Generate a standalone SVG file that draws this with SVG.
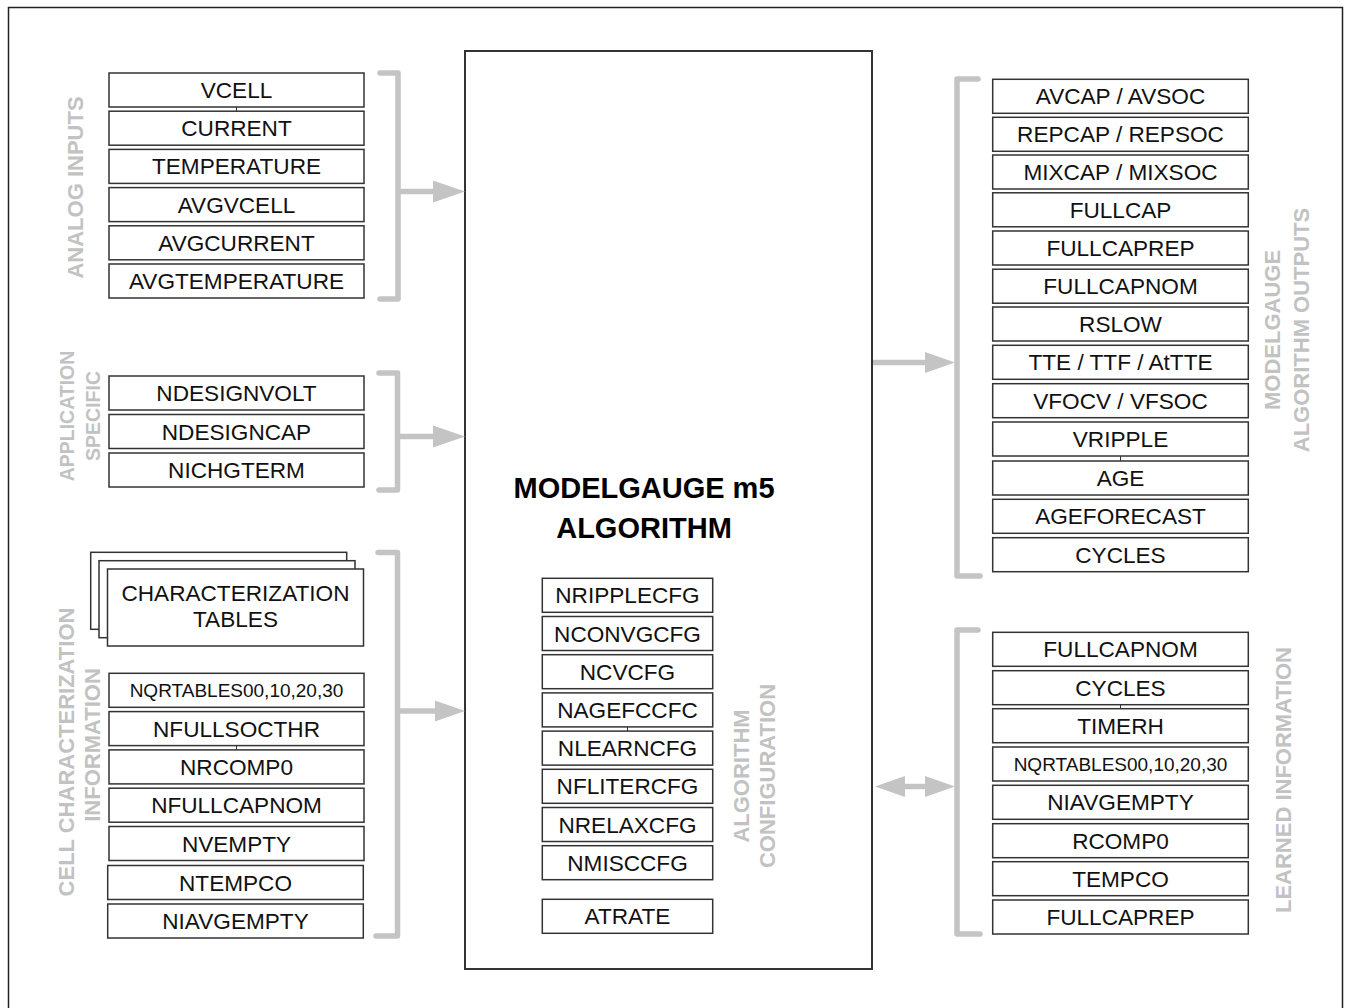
<svg xmlns="http://www.w3.org/2000/svg" width="1351" height="1008" viewBox="0 0 1351 1008">
<style>
.box{fill:#fff;stroke:#333;stroke-width:1.5}
.t{font-family:"Liberation Sans",Arial,sans-serif;font-size:22.6px;fill:#111;text-anchor:middle}
.ts{font-size:19px}
.lbl{font-family:"Liberation Sans",Arial,sans-serif;font-size:22px;font-weight:bold;fill:#c2c2c2;text-anchor:middle}
.lbs{font-size:19.5px}
.brk{fill:none;stroke:#c4c4c4;stroke-width:5.5;stroke-linecap:round;stroke-linejoin:round}
.shaft{stroke:#c4c4c4;stroke-width:5.5}
.head{fill:#c4c4c4}
.tick{stroke:#333;stroke-width:1}
</style>
<rect width="1351" height="1008" fill="#fff"/>
<path d="M8.5,1012 V7.5 H1342.5 V1012" fill="none" stroke="#222" stroke-width="1.5"/>

<g id="main">
<rect x="465" y="51" width="407" height="918" fill="#fff" stroke="#333" stroke-width="2"/>
<text x="644" y="498" font-family="Liberation Sans, Arial, sans-serif" font-size="29" font-weight="bold" text-anchor="middle" fill="#000">MODELGAUGE m5</text>
<text x="644" y="538" font-family="Liberation Sans, Arial, sans-serif" font-size="29" font-weight="bold" text-anchor="middle" fill="#000">ALGORITHM</text>
</g>

<g id="labels">
<text class="lbl" transform="translate(83,187.5) rotate(-90)">ANALOG INPUTS</text>
<text class="lbl lbs" transform="translate(74,416) rotate(-90)">APPLICATION</text>
<text class="lbl lbs" transform="translate(100,416) rotate(-90)">SPECIFIC</text>
<text class="lbl" transform="translate(74,752) rotate(-90)">CELL CHARACTERIZATION</text>
<text class="lbl" transform="translate(100,745) rotate(-90)">INFORMATION</text>
<text class="lbl" transform="translate(749,776) rotate(-90)">ALGORITHM</text>
<text class="lbl" transform="translate(775,776) rotate(-90)">CONFIGURATION</text>
<text class="lbl" transform="translate(1280,330) rotate(-90)">MODELGAUGE</text>
<text class="lbl" transform="translate(1309,330) rotate(-90)">ALGORITHM OUTPUTS</text>
<text class="lbl" transform="translate(1291,780) rotate(-90)">LEARNED INFORMATION</text>
</g>

<g id="analog-inputs">
<g id="n-vcell"><rect class="box" x="109" y="73" width="255" height="34"/><text class="t" x="236.5" y="98">VCELL</text></g>
<g id="n-current"><rect class="box" x="109" y="111.2" width="255" height="34"/><text class="t" x="236.5" y="136.2">CURRENT</text></g>
<g id="n-temperature"><rect class="box" x="109" y="149.4" width="255" height="34"/><text class="t" x="236.5" y="174.4">TEMPERATURE</text></g>
<g id="n-avgvcell"><rect class="box" x="109" y="187.6" width="255" height="34"/><text class="t" x="236.5" y="212.6">AVGVCELL</text></g>
<g id="n-avgcurrent"><rect class="box" x="109" y="225.8" width="255" height="34"/><text class="t" x="236.5" y="250.8">AVGCURRENT</text></g>
<g id="n-avgtemperature"><rect class="box" x="109" y="264" width="255" height="34"/><text class="t" x="236.5" y="289">AVGTEMPERATURE</text></g>
</g>

<g id="application-specific">
<g id="n-ndesignvolt"><rect class="box" x="109" y="376" width="255" height="34"/><text class="t" x="236.5" y="401">NDESIGNVOLT</text></g>
<g id="n-ndesigncap"><rect class="box" x="109" y="414.5" width="255" height="34"/><text class="t" x="236.5" y="439.5">NDESIGNCAP</text></g>
<g id="n-nichgterm"><rect class="box" x="109" y="453" width="255" height="34"/><text class="t" x="236.5" y="478">NICHGTERM</text></g>
</g>

<g id="cell-characterization">
<g id="n-char-tables">
<rect class="box" x="90.7" y="552.3" width="256" height="77"/>
<rect class="box" x="99" y="560.7" width="256" height="77"/>
<rect class="box" x="107.5" y="569" width="256" height="77"/>
<text class="t" x="235.5" y="601">CHARACTERIZATION</text>
<text class="t" x="235.5" y="627">TABLES</text>
</g>
<g id="n-nqrtables-l"><rect class="box" x="109" y="673.3" width="255" height="34"/><text class="t ts" x="236.5" y="697">NQRTABLES00,10,20,30</text></g>
<g id="n-nfullsocthr"><rect class="box" x="109" y="711.6" width="255" height="34"/><text class="t" x="236.5" y="736.6">NFULLSOCTHR</text></g>
<g id="n-nrcomp0"><rect class="box" x="109" y="749.9" width="255" height="34"/><text class="t" x="236.5" y="774.9">NRCOMP0</text></g>
<g id="n-nfullcapnom"><rect class="box" x="109" y="788.2" width="255" height="34"/><text class="t" x="236.5" y="813.2">NFULLCAPNOM</text></g>
<g id="n-nvempty"><rect class="box" x="109" y="826.5" width="255" height="34"/><text class="t" x="236.5" y="851.5">NVEMPTY</text></g>
<g id="n-ntempco"><rect class="box" x="107.7" y="865.5" width="255.6" height="34"/><text class="t" x="235.5" y="890.5">NTEMPCO</text></g>
<g id="n-niavgempty-l"><rect class="box" x="107.7" y="904" width="255.6" height="34"/><text class="t" x="235.5" y="929">NIAVGEMPTY</text></g>
</g>

<g id="algorithm-configuration">
<g id="n-nripplecfg"><rect class="box" x="542.3" y="578.3" width="170.4" height="34"/><text class="t" x="627.5" y="603.3">NRIPPLECFG</text></g>
<g id="n-nconvgcfg"><rect class="box" x="542.3" y="616.5" width="170.4" height="34"/><text class="t" x="627.5" y="641.5">NCONVGCFG</text></g>
<g id="n-ncvcfg"><rect class="box" x="542.3" y="654.7" width="170.4" height="34"/><text class="t" x="627.5" y="679.7">NCVCFG</text></g>
<g id="n-nagefccfc"><rect class="box" x="542.3" y="692.9" width="170.4" height="34"/><text class="t" x="627.5" y="717.9">NAGEFCCFC</text></g>
<g id="n-nlearncfg"><rect class="box" x="542.3" y="731.1" width="170.4" height="34"/><text class="t" x="627.5" y="756.1">NLEARNCFG</text></g>
<g id="n-nflitercfg"><rect class="box" x="542.3" y="769.3" width="170.4" height="34"/><text class="t" x="627.5" y="794.3">NFLITERCFG</text></g>
<g id="n-nrelaxcfg"><rect class="box" x="542.3" y="807.5" width="170.4" height="34"/><text class="t" x="627.5" y="832.5">NRELAXCFG</text></g>
<g id="n-nmisccfg"><rect class="box" x="542.3" y="845.7" width="170.4" height="34"/><text class="t" x="627.5" y="870.7">NMISCCFG</text></g>
<g id="n-atrate"><rect class="box" x="542.3" y="899.3" width="170.4" height="34"/><text class="t" x="627.5" y="924.3">ATRATE</text></g>
</g>

<g id="algorithm-outputs">
<g id="n-avcap"><rect class="box" x="992.7" y="79.3" width="255.6" height="34"/><text class="t" x="1120.5" y="104.3">AVCAP / AVSOC</text></g>
<g id="n-repcap"><rect class="box" x="992.7" y="117.3" width="255.6" height="34"/><text class="t" x="1120.5" y="142.3">REPCAP / REPSOC</text></g>
<g id="n-mixcap"><rect class="box" x="992.7" y="155" width="255.6" height="34"/><text class="t" x="1120.5" y="180">MIXCAP / MIXSOC</text></g>
<g id="n-fullcap"><rect class="box" x="992.7" y="192.8" width="255.6" height="34"/><text class="t" x="1120.5" y="217.8">FULLCAP</text></g>
<g id="n-fullcaprep"><rect class="box" x="992.7" y="231" width="255.6" height="34"/><text class="t" x="1120.5" y="256">FULLCAPREP</text></g>
<g id="n-fullcapnom"><rect class="box" x="992.7" y="269.2" width="255.6" height="34"/><text class="t" x="1120.5" y="294.2">FULLCAPNOM</text></g>
<g id="n-rslow"><rect class="box" x="992.7" y="307" width="255.6" height="34"/><text class="t" x="1120.5" y="332">RSLOW</text></g>
<g id="n-tte"><rect class="box" x="992.7" y="345.3" width="255.6" height="34"/><text class="t" x="1120.5" y="370.3">TTE / TTF / AtTTE</text></g>
<g id="n-vfocv"><rect class="box" x="992.7" y="383.7" width="255.6" height="34"/><text class="t" x="1120.5" y="408.7">VFOCV / VFSOC</text></g>
<g id="n-vripple"><rect class="box" x="992.7" y="422" width="255.6" height="34"/><text class="t" x="1120.5" y="447">VRIPPLE</text></g>
<g id="n-age"><rect class="box" x="992.7" y="461" width="255.6" height="34"/><text class="t" x="1120.5" y="486">AGE</text></g>
<g id="n-ageforecast"><rect class="box" x="992.7" y="499.3" width="255.6" height="34"/><text class="t" x="1120.5" y="524.3">AGEFORECAST</text></g>
<g id="n-cycles"><rect class="box" x="992.7" y="537.7" width="255.6" height="34"/><text class="t" x="1120.5" y="562.7">CYCLES</text></g>
</g>

<g id="learned-information">
<g id="n-l-fullcapnom"><rect class="box" x="992.7" y="632.3" width="255.6" height="34"/><text class="t" x="1120.5" y="657.3">FULLCAPNOM</text></g>
<g id="n-l-cycles"><rect class="box" x="992.7" y="670.7" width="255.6" height="34"/><text class="t" x="1120.5" y="695.7">CYCLES</text></g>
<g id="n-l-timerh"><rect class="box" x="992.7" y="708.7" width="255.6" height="34"/><text class="t" x="1120.5" y="733.7">TIMERH</text></g>
<g id="n-l-nqrtables"><rect class="box" x="992.7" y="747" width="255.6" height="34"/><text class="t ts" x="1120.5" y="770.7">NQRTABLES00,10,20,30</text></g>
<g id="n-l-niavgempty"><rect class="box" x="992.7" y="785.3" width="255.6" height="34"/><text class="t" x="1120.5" y="810.3">NIAVGEMPTY</text></g>
<g id="n-l-rcomp0"><rect class="box" x="992.7" y="823.7" width="255.6" height="34"/><text class="t" x="1120.5" y="848.7">RCOMP0</text></g>
<g id="n-l-tempco"><rect class="box" x="992.7" y="861.7" width="255.6" height="34"/><text class="t" x="1120.5" y="886.7">TEMPCO</text></g>
<g id="n-l-fullcaprep"><rect class="box" x="992.7" y="900" width="255.6" height="34"/><text class="t" x="1120.5" y="925">FULLCAPREP</text></g>
</g>

<g id="connectors">
<path class="brk" d="M380,73 H398 V299 H380"/>
<path class="brk" d="M379,373 H397.5 V490 H379"/>
<path class="brk" d="M378,552.5 H397.5 V936 H376"/>
<path class="brk" d="M978,79 H957 V576 H980"/>
<path class="brk" d="M978,630 H957 V934 H980"/>

<line class="shaft" x1="398" y1="191.5" x2="434" y2="191.5"/>
<polygon class="head" points="433,180.5 465,191.5 433,202.5"/>
<line class="shaft" x1="397.5" y1="436.5" x2="434" y2="436.5"/>
<polygon class="head" points="433,425.5 465,436.5 433,447.5"/>
<line class="shaft" x1="397.5" y1="711" x2="436" y2="711"/>
<polygon class="head" points="435,700.5 465,711 435,721.5"/>
<line class="shaft" x1="873" y1="362.5" x2="926" y2="362.5"/>
<polygon class="head" points="925,352 955,362.5 925,373"/>
<line class="shaft" x1="904" y1="786.5" x2="926" y2="786.5"/>
<polygon class="head" points="905,776 875,786.5 905,797"/>
<polygon class="head" points="925,776 955,786.5 925,797"/>

<line class="tick" x1="236.5" y1="107" x2="236.5" y2="111.2"/>
<line class="tick" x1="236.5" y1="745.6" x2="236.5" y2="749.9"/>
<line class="tick" x1="627.5" y1="726.9" x2="627.5" y2="731.1"/>
<line class="tick" x1="1120.5" y1="704.7" x2="1120.5" y2="708.7"/>
<line class="tick" x1="1120.5" y1="456" x2="1120.5" y2="461"/>
</g>
</svg>
